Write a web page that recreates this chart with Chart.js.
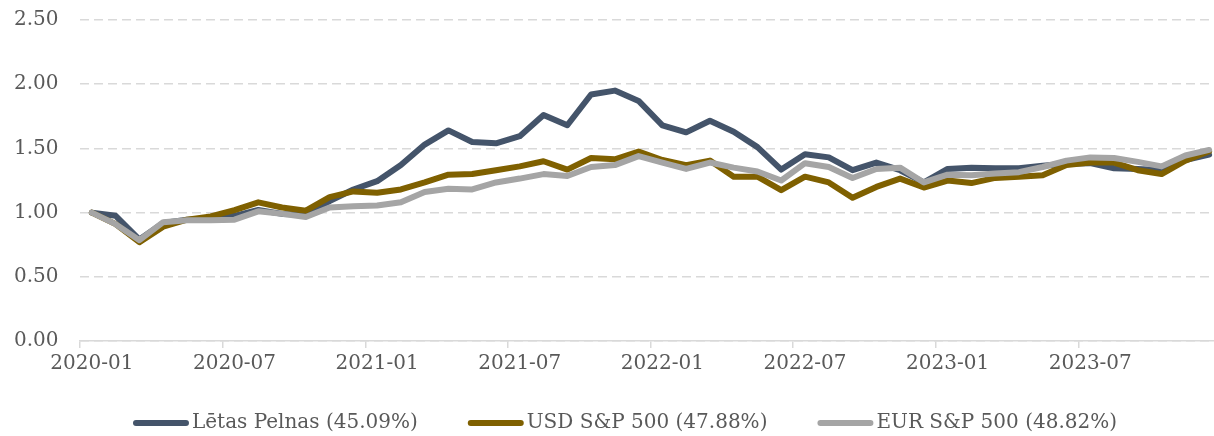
<!DOCTYPE html>
<html>
<head>
<meta charset="utf-8">
<script src="https://cdn.jsdelivr.net/npm/chart.js@4"></script>
<style>
  html, body { margin: 0; padding: 0; background: #fff; overflow: hidden; }
  #wrap { width: 1221px; height: 436px; }
</style>
</head>
<body>
<div id="wrap"><canvas id="myChart"></canvas></div>
<script>
const months = [];
for (let y = 2020; y <= 2023; y++) {
   for (let m = 1; m <= 12; m++) {
      months.push(y + '-' + (m < 10 ? '0' + m : m));
   }
}

const letasPelnas = [1.00, 0.975, 0.79, 0.92, 0.945, 0.95, 0.975, 1.02, 0.99, 0.985, 1.09, 1.18,
   1.245, 1.37, 1.53, 1.64, 1.55, 1.54, 1.595, 1.76, 1.68, 1.92, 1.95, 1.87,
   1.68, 1.625, 1.715, 1.63, 1.51, 1.335, 1.455, 1.43, 1.33, 1.39, 1.33, 1.235,
   1.34, 1.35, 1.345, 1.345, 1.365, 1.38, 1.385, 1.345, 1.34, 1.33, 1.41, 1.451];

const usdSP = [1.00, 0.91, 0.77, 0.89, 0.945, 0.97, 1.02, 1.08, 1.04, 1.015, 1.12, 1.165,
   1.155, 1.18, 1.235, 1.295, 1.30, 1.33, 1.36, 1.40, 1.335, 1.425, 1.415, 1.475,
   1.41, 1.37, 1.405, 1.28, 1.28, 1.175, 1.28, 1.235, 1.115, 1.20, 1.265, 1.195,
   1.25, 1.23, 1.27, 1.28, 1.29, 1.37, 1.39, 1.39, 1.33, 1.30, 1.405, 1.479];

const eurSP = [1.00, 0.91, 0.785, 0.925, 0.94, 0.94, 0.945, 1.01, 0.99, 0.965, 1.04, 1.05,
   1.055, 1.08, 1.16, 1.185, 1.18, 1.235, 1.265, 1.30, 1.285, 1.355, 1.37, 1.44,
   1.39, 1.34, 1.39, 1.35, 1.32, 1.25, 1.385, 1.355, 1.27, 1.34, 1.35, 1.235,
   1.295, 1.29, 1.305, 1.315, 1.355, 1.405, 1.43, 1.425, 1.395, 1.36, 1.445, 1.488];

const seriesNames = ['Lētas Pelnas (45.09%)', 'USD S&P 500 (47.88%)', 'EUR S&P 500 (48.82%)'];
const seriesColors = ['#44546A', '#7F6000', '#A5A5A5'];

const textColor = '#595959';
const gridColor = '#D9D9D9';
const fontFamily = '"DejaVu Serif", serif';

function makeDataset(idx, values) {
   return {
      label: seriesNames[idx],
      data: values,
      borderColor: seriesColors[idx],
      backgroundColor: seriesColors[idx],
      borderWidth: 6,
      borderJoinStyle: 'round',
      borderCapStyle: 'round',
      tension: 0,
      pointRadius: 0,
      pointHoverRadius: 0,
      order: 3 - idx
   };
}

// legend drawn by hand: short thick line + label, Excel style spacing
const lineLegend = {
   id: 'lineLegend',
   afterDraw(chart) {
      const c = chart.ctx;
      const centerX = 625;
      const y = 423;
      const markLen = 50;
      const gap = 50;
      c.save();
      c.font = '20px ' + fontFamily;
      c.textBaseline = 'middle';
      c.textAlign = 'left';
      const widths = chart.data.datasets.map(ds => c.measureText(ds.label).width);
      let total = gap * (widths.length - 1);
      widths.forEach(w => { total += markLen + 6 + 3 + w; });
      let x = centerX - total / 2;
      chart.data.datasets.forEach((ds, i) => {
         c.strokeStyle = ds.borderColor;
         c.lineWidth = 6;
         c.lineCap = 'round';
         c.beginPath();
         c.moveTo(x + 3, y);
         c.lineTo(x + 3 + markLen, y);
         c.stroke();
         c.fillStyle = textColor;
         c.fillText(ds.label, x + markLen + 9, y);
         x += markLen + 9 + widths[i] + gap;
      });
      c.restore();
   }
};

const ctx = document.getElementById('myChart');
const myChart = new Chart(ctx, {
   type: 'line',
   data: {
      labels: months,
      datasets: [
         makeDataset(0, letasPelnas),
         makeDataset(1, usdSP),
         makeDataset(2, eurSP)
      ]
   },
   plugins: [lineLegend],
   options: {
      responsive: true,
      maintainAspectRatio: false,
      animation: false,
      events: [],
      layout: {
         padding: { left: 14, right: 0, top: 20, bottom: 56 }
      },
      plugins: {
         tooltip: { enabled: false },
         legend: { display: false }
      },
      scales: {
         x: {
            offset: true,
            grid: {
               offset: true,
               drawOnChartArea: false,
               drawTicks: true,
               tickLength: 7,
               lineWidth: 1.5,
               color: (c) => (c.index % 6 === 0 ? gridColor : 'rgba(0,0,0,0)')
            },
            border: { display: true, color: gridColor, width: 1.5 },
            ticks: {
               autoSkip: false,
               maxRotation: 0,
               minRotation: 0,
               padding: 4,
               color: textColor,
               font: { family: fontFamily, size: 20 },
               callback: function (v, i) {
                  return i % 6 === 0 ? months[i] : '';
               }
            }
         },
         y: {
            min: 0,
            max: 2.5,
            afterFit: (scale) => { scale.width = 66; },
            grid: {
               drawTicks: false,
               color: gridColor,
               lineWidth: 1.5
            },
            border: { display: false, dash: [9, 5] },
            ticks: {
               stepSize: 0.5,
               padding: 0,
               crossAlign: 'far',
               color: textColor,
               font: { family: fontFamily, size: 20 },
               callback: (v) => v.toFixed(2)
            }
         }
      }
   }
});
</script>
</body>
</html>
